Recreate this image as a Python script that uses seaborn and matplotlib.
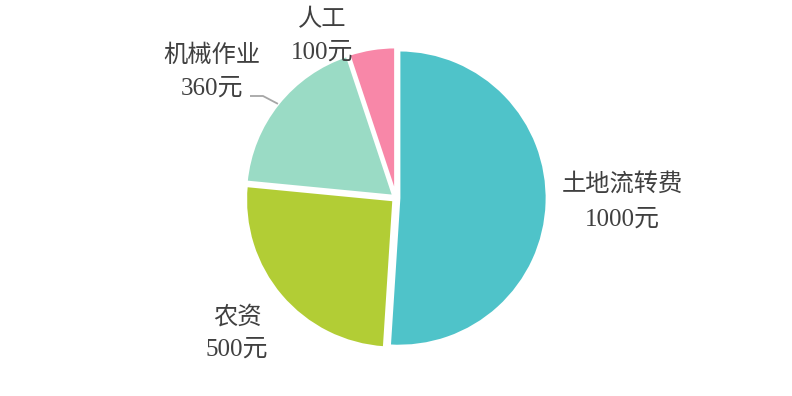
import numpy as np
import matplotlib
matplotlib.use("Agg")
import matplotlib.pyplot as plt
import seaborn as sns

# Cost breakdown (yuan)
categories = ["土地流转费", "农资", "机械作业", "人工"]
values = [1000, 500, 360, 100]
value_labels = ["1000元", "500元", "360元", "100元"]
colors = ["#4FC3C9", "#B2CD35", "#9ADBC5", "#F887A8"]

sns.set_theme(style="white")
plt.rcParams["font.family"] = ["Liberation Serif", "Noto Sans CJK SC", "DejaVu Sans"]

W, H = 792, 396
fig = plt.figure(figsize=(W / 100, H / 100), dpi=100)
ax = fig.add_axes([0, 0, 1, 1])

# pie drawn in a pixel-sized data frame; explode offsets are in the same units
cx, cy, r = 396, H - 198, 148
wedges, _ = ax.pie(values, colors=sns.color_palette(colors), startangle=90,
                   counterclock=False, center=(cx, cy), radius=r,
                   explode=[3] * len(values),
                   wedgeprops=dict(edgecolor="white", linewidth=2.0))

# pie() resets limits, so set them afterwards
ax.set_xlim(0, W)
ax.set_ylim(0, H)
ax.set_aspect("equal")
ax.axis("off")

# label anchors: (x, y of category line, y of value line), y from top
label_pos = [(622, 185, 220), (237, 317, 350), (212, 56, 89), (322, 20, 53)]
txt_color = "#404040"
for i, (lx, y1, y2) in enumerate(label_pos):
    ax.text(lx, H - y1, categories[i], ha="center", va="center",
            fontsize=17.5, color=txt_color)
    ax.text(lx, H - y2, value_labels[i], ha="center", va="center",
            fontsize=18, color=txt_color)

# leader line for the machinery slice
w = wedges[2]
mid = np.deg2rad((w.theta1 + w.theta2) / 2)
wx, wy = w.center
ex = wx + r * np.cos(mid)
ey = wy + r * np.sin(mid)
ax.plot([250, 263, ex], [H - 96, H - 96, ey], color="#A6A6A6", lw=1.3,
        solid_capstyle="butt")

fig.savefig("out.png", dpi=100, facecolor="white")
